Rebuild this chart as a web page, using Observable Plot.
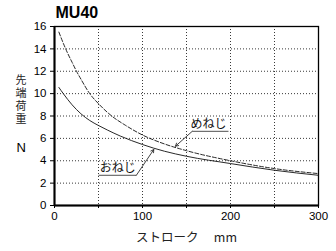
<!DOCTYPE html>
<html><head><meta charset="utf-8">
<script src="https://cdn.jsdelivr.net/npm/d3@7"></script>
<script src="https://cdn.jsdelivr.net/npm/@observablehq/plot@0.6"></script>
<style>body{margin:0;background:#fff} svg{display:block}</style>
</head><body><div id="chart"></div>
<script>
// おねじ (solid)
const strokeOneji = [5,10,20,30,40,50,60,75,100,125,150,200,250,300];
const forceOneji  = [10.55,10.0,9.0,8.2,7.6,7.15,6.75,6.2,5.45,4.85,4.4,3.75,3.15,2.7];
// めねじ (dashed)
const strokeMeneji = [5,10,15,20,25,30,40,50,65,80,100,125,150,200,250,300];
const forceMeneji  = [15.5,14.5,13.6,12.8,12.0,11.3,10.0,9.1,8.0,7.2,6.3,5.5,4.9,4.0,3.3,2.85];

const xTicks = [0,100,200,300];
const xMinorTicks = [50,150,250];
const yTicks = [0,2,4,6,8,10,12,14,16];
const xGrid = [50,100,150,200,250];
const yGrid = [2,4,6,8,10,12,14];

const title = "MU40";
const yLabelChars = ["先","端","荷","重"];
const yLabelPos = [11.15, 10.0, 8.85, 7.7];
const yUnit = "N";
const xLabel = "ストローク　 mm";

// annotation labels: text, text position, underline span, leader tip
const labelNames = ["めねじ","おねじ"];
const labelX = [175, 72];
const labelY = [7.3, 3.3];
const underlineX1 = [156.5, 50];
const underlineX2 = [197.7, 93];
const underlineY = [6.63, 2.7];
const leaderFromX = [156.5, 93];
const tipX = [137.5, 112.8];
const tipY = [5.3, 5.0];

const oneji = strokeOneji.map((s,i)=>({x:s, y:forceOneji[i]}));
const meneji = strokeMeneji.map((s,i)=>({x:s, y:forceMeneji[i]}));
const ann = labelNames.map((t,i)=>({t, x:labelX[i], y:labelY[i], x1:underlineX1[i], x2:underlineX2[i], uy:underlineY[i], fx:leaderFromX[i], tx:tipX[i], ty:tipY[i]}));
const yLab = yLabelChars.map((c,i)=>({c, y:yLabelPos[i]}));

const font = "Liberation Sans, Arial, Helvetica, sans-serif";
const jfont = "Noto Sans CJK JP, sans-serif";

const chart = Plot.plot({
  width: 336, height: 251,
  marginLeft: 54, marginRight: 18, marginTop: 26, marginBottom: 46,
  style: {fontFamily: font, fontSize: "11.5px", color: "#000", background: "#fff"},
  x: {type: "linear", domain: [0,300]},
  y: {type: "linear", domain: [0,16]},
  marks: [
    Plot.ruleX(xGrid, {stroke: "#222", strokeWidth: 0.9, strokeDasharray: "1,2"}),
    Plot.ruleY(yGrid, {stroke: "#222", strokeWidth: 0.9, strokeDasharray: "1,2"}),
    Plot.axisX({ticks: xTicks, tickSize: 3, tickPadding: 3, label: null, fontSize: 11.5}),
    Plot.axisX({ticks: xMinorTicks, tickSize: 3, text: null, label: null}),
    Plot.axisY({ticks: yTicks, tickSize: 4, tickPadding: 4, label: null, fontSize: 11.5}),
    Plot.frame({stroke: "#000", strokeWidth: 1.3}),
    Plot.ruleX([0], {stroke: "#000", strokeWidth: 2}),
    Plot.ruleY([0], {stroke: "#000", strokeWidth: 2}),
    Plot.line(meneji, {x: "x", y: "y", curve: "monotone-x", stroke: "#111", strokeWidth: 0.9, strokeDasharray: "4,2"}),
    Plot.line(oneji, {x: "x", y: "y", curve: "monotone-x", stroke: "#111", strokeWidth: 0.9}),
    Plot.link(ann, {x1: "x1", x2: "x2", y1: "uy", y2: "uy", stroke: "#222", strokeWidth: 0.8}),
    Plot.arrow(ann, {x1: "fx", y1: "uy", x2: "tx", y2: "ty", stroke: "#111", strokeWidth: 0.8, headLength: 6, bend: false}),
    Plot.text(ann, {x: "x", y: "y", text: "t", fontFamily: jfont, fontSize: 12, fill: "#111"}),
    Plot.text([title], {frameAnchor: "top-left", dx: 1, dy: -14, text: d => d, fontWeight: "bold", fontSize: 16, textAnchor: "start", lineAnchor: "middle"}),
    Plot.text(yLab, {frameAnchor: "left", y: "y", dx: -39, text: "c", fontFamily: jfont, fontSize: 11, lineAnchor: "middle", fill: "#222"}),
    Plot.text([yUnit], {frameAnchor: "top-left", dx: -38, dy: 121, text: d => d, fontSize: 13, lineAnchor: "middle"}),
    Plot.text([xLabel], {frameAnchor: "bottom", dy: 32, text: d => d, fontFamily: jfont, fontSize: 12.5, lineAnchor: "middle", fill: "#222"})
  ]
});
document.getElementById("chart").append(chart);
</script></body></html>
